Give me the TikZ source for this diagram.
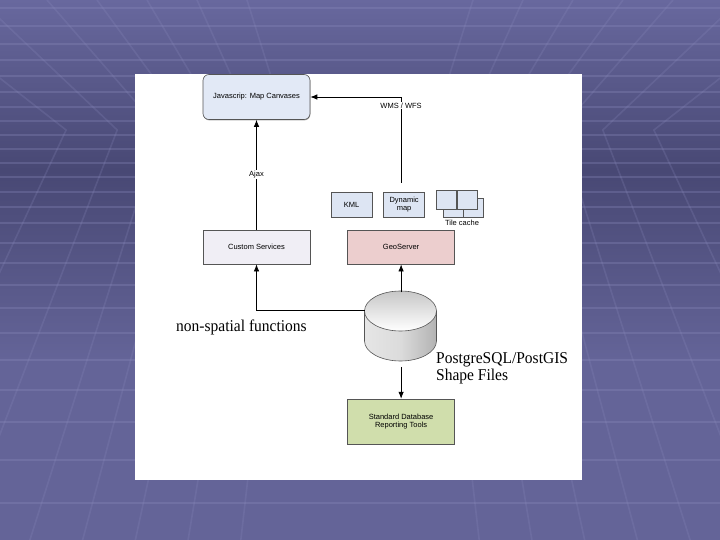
\documentclass[tikz,border=0pt]{standalone}
\usepackage{fontspec}
\setmainfont{Liberation Serif}
\setsansfont{Liberation Sans}
\usetikzlibrary{arrows.meta,positioning,shadows}

\definecolor{slidebg}{RGB}{100,100,152}
\definecolor{slidetop}{RGB}{104,104,158}
\definecolor{slidedark}{RGB}{72,72,116}
\definecolor{gridline}{RGB}{140,140,190}
\definecolor{jsfill}{RGB}{226,233,246}
\definecolor{custfill}{RGB}{240,238,245}
\definecolor{geofill}{RGB}{236,206,206}
\definecolor{outfill}{RGB}{221,229,243}
\definecolor{toolfill}{RGB}{208,222,172}
\definecolor{boxline}{RGB}{85,85,85}

\begin{document}
\begin{tikzpicture}[
  x=1pt, y=-1pt,
  box/.style={draw=boxline, fill=#1, align=center, minimum width=107pt,
              minimum height=34pt, inner sep=2pt, line width=0.6pt,
              drop shadow={shadow xshift=0.4pt, shadow yshift=-0.9pt, opacity=0.7},
              font=\sffamily\fontsize{7.5}{8.5}\selectfont},
  box/.default=white,
  smallbox/.style={box=outfill, minimum width=41pt, minimum height=25pt},
  tilebox/.style={draw=boxline, fill=outfill, line width=0.6pt,
                  minimum width=20pt, minimum height=19pt, inner sep=0pt},
  flow/.style={-{Latex[length=7pt,width=5.5pt]}, line width=0.8pt},
  tag/.style={fill=white, inner sep=1pt, font=\sffamily\fontsize{7.5}{8.5}\selectfont},
  note/.style={align=left, inner sep=0pt, font=\fontsize{16.5}{17}\selectfont}
]
  \useasboundingbox (0,0) rectangle (720,540);

  % slide background
  \shade[top color=slidetop, bottom color=slidedark] (0,0) rectangle (720,170);
  \shade[top color=slidedark, bottom color=slidebg] (0,170) rectangle (720,360);
  \fill[slidebg] (0,360) rectangle (720,540);
  \begin{scope}[gridline, line width=1.3pt, opacity=0.3]
    \foreach \y in {8,26,44,60,76,92,107,121,135,149,163,177,192,207,223,243,263,285,308,333,360,390,422,460,503}
      \draw (0,\y) -- (720,\y);
  \end{scope}
  \begin{scope}[gridline, line width=1.6pt, opacity=0.22]
    \foreach \x in {-100,-20,47,97,147,197,247}{
      \draw (\x,0) -- ({\x+(360-\x)/360*130},130) -- ({360-(360-\x)*(1-130/360)/630*1040},540);
      \draw (720-\x,0) -- ({720-\x-(360-\x)/360*130},130) -- ({360+(360-\x)*(1-130/360)/630*1040},540);
    }
  \end{scope}
  \fill[white] (135,74) rectangle (582,480);

  % nodes
  \node[box=jsfill, rounded corners=6pt, minimum height=45pt] (js) at (256.5,97) {Javascrip: Map Canvases};
  \node[box=custfill, below=110pt of js] (cust) {Custom Services};
  \node[box=geofill, right=37pt of cust] (geo) {GeoServer};
  \node[smallbox] (kml) at (351.5,204.5) {KML};
  \node[smallbox, right=11pt of kml] (dyn) {Dynamic\\map};
  \node[tilebox] (tile3) at (453,207.5) {};
  \node[tilebox] (tile4) at (473.5,207.5) {};
  \node[tilebox] (tile1) at (446,199.5) {};
  \node[tilebox] (tile2) at (467,199.5) {};
  \node[inner sep=0pt, font=\sffamily\fontsize{7.5}{8.5}\selectfont] (tiletag) at (462,223) {Tile cache};
  \node[minimum width=72pt, minimum height=70pt, inner sep=0pt, below=28pt of geo] (db) {};
  \node[box=toolfill, minimum height=45pt, below=36pt of db] (tools) {Standard Database\\Reporting Tools};
  \node[note, anchor=west] (nonspatial) at (176,327) {\scalebox{0.94}[1]{non-spatial functions}};
  \node[note, anchor=north west] (pgtag) at (436,352) {\scalebox{0.94}[1]{PostgreSQL/PostGIS}\\\scalebox{0.94}[1]{Shape Files}};

  % database cylinder
  \shade[left color=black!10, right color=black!30, middle color=black!14]
    (364.5,311) -- (364.5,341) arc[start angle=180, end angle=0, x radius=36, y radius=20] -- (436.5,311) -- cycle;
  \shade[top color=black!22, bottom color=white] (400.5,311) ellipse[x radius=36, y radius=20];
  \draw[boxline, line width=0.6pt] (364.5,311) -- (364.5,341)
    arc[start angle=180, end angle=0, x radius=36, y radius=20] -- (436.5,311);
  \draw[boxline, line width=0.6pt] (400.5,311) ellipse[x radius=36, y radius=20];

  % connectors
  \draw[flow] (cust) -- node[tag] {Ajax} (js);
  \draw[flow] ([yshift=9pt]dyn.north -| geo.north) |- node[tag, pos=0.45] {WMS / WFS} (js.east);
  \draw[flow] (db.north) -- (geo.south);
  \draw[flow] ([yshift=17pt]db.west) -| (cust.south);
  \draw[flow] ([yshift=-4pt]db.south) -- (tools.north);
\end{tikzpicture}
\end{document}
